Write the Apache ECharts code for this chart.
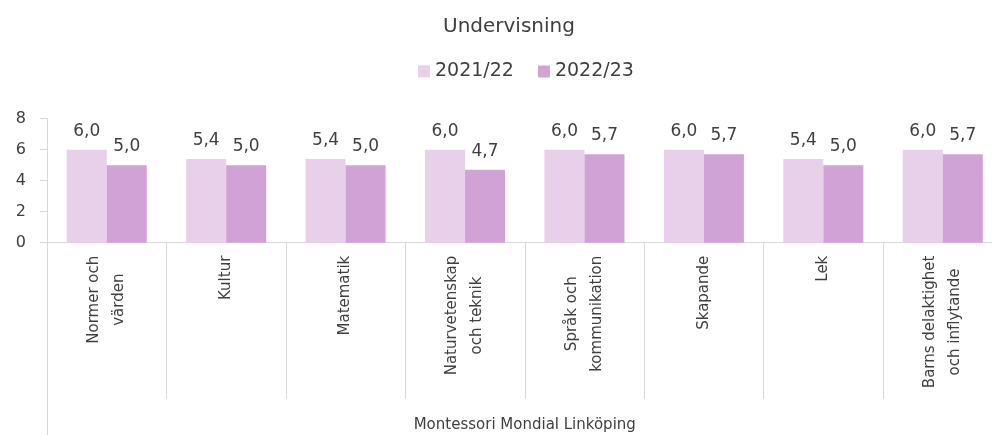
<!DOCTYPE html>
<html>
<head>
<meta charset="utf-8">
<script src="https://cdn.jsdelivr.net/npm/echarts@6/dist/echarts.min.js"></script>
<style>
  html, body { margin: 0; padding: 0; background: #fff; }
  #main { width: 992px; height: 435px; }
</style>
</head>
<body>
<div id="main"></div>
<script>
// data
var categories = ['Normer och\nvärden', 'Kultur', 'Matematik', 'Naturvetenskap\noch teknik',
  'Språk och\nkommunikation', 'Skapande', 'Lek', 'Barns delaktighet\noch inflytande'];
var groupLabel = ['Montessori Mondial Linköping'];
var seriesNames = ['2021/22', '2022/23'];
var values2122 = [6.0, 5.4, 5.4, 6.0, 6.0, 6.0, 5.4, 6.0];
var values2223 = [5.0, 5.0, 5.0, 4.7, 5.7, 5.7, 5.0, 5.7];
var colors = ['#e8cfea', '#d0a2d6'];

var txt = '#404040';
var lineCol = '#d9d9d9';
var font = 'DejaVu Sans';
var catFontSize = 15;

var myChart = echarts.init(document.getElementById('main'));

function barSeries(name, data, color) {
  return {
    name: name,
    type: 'bar',
    data: data,
    barWidth: 40,
    barGap: '0%',
    itemStyle: { color: color },
    label: {
      show: true,
      position: 'top',
      distance: 10,
      color: txt,
      fontFamily: font,
      fontSize: 17,
      formatter: function (p) { return p.value.toFixed(1).replace('.', ','); }
    }
  };
}

var option = {
  animation: false,
  textStyle: { fontFamily: font },
  title: {
    text: 'Undervisning',
    left: 438,
    top: 12,
    textStyle: { color: txt, fontFamily: font, fontSize: 20, fontWeight: 'normal' }
  },
  legend: {
    data: seriesNames,
    top: 57,
    left: 413,
    icon: 'rect',
    itemWidth: 12,
    itemHeight: 12,
    itemGap: 24,
    textStyle: { color: txt, fontFamily: font, fontSize: 19 }
  },
  // plot runs a little past the right edge, like the original
  grid: { left: 47, width: 955.5, top: 118.7, bottom: 192.3, containLabel: false, outerBoundsMode: 'none' },
  xAxis: [
    {
      type: 'category',
      data: categories,
      axisLine: { show: true, lineStyle: { color: lineCol } },
      axisTick: { show: true, interval: 0, length: 156, lineStyle: { color: lineCol } },
      axisLabel: {
        interval: 0,
        rotate: 90,
        margin: 13,
        color: txt,
        fontFamily: font,
        fontSize: catFontSize,
        formatter: function (v) {
          return v.split('\n').map(function (s) { return '{c|' + s + '}'; }).join('\n');
        },
        rich: { c: { align: 'center', fontFamily: font, fontSize: catFontSize, lineHeight: 25, color: txt } }
      }
    },
    {
      type: 'category',
      data: groupLabel,
      position: 'bottom',
      axisLine: { show: false },
      axisTick: { show: true, length: 200, lineStyle: { color: lineCol } },
      axisLabel: { margin: 175, color: txt, fontFamily: font, fontSize: 15 }
    }
  ],
  yAxis: {
    type: 'value',
    min: 0,
    max: 8,
    interval: 2,
    splitLine: { show: false },
    axisLine: { show: true, lineStyle: { color: lineCol } },
    axisTick: { show: true, length: 7, lineStyle: { color: lineCol } },
    axisLabel: { color: txt, fontFamily: font, fontSize: 16, margin: 21 }
  },
  series: [
    barSeries(seriesNames[0], values2122, colors[0]),
    barSeries(seriesNames[1], values2223, colors[1])
  ]
};

myChart.setOption(option);
</script>
</body>
</html>
